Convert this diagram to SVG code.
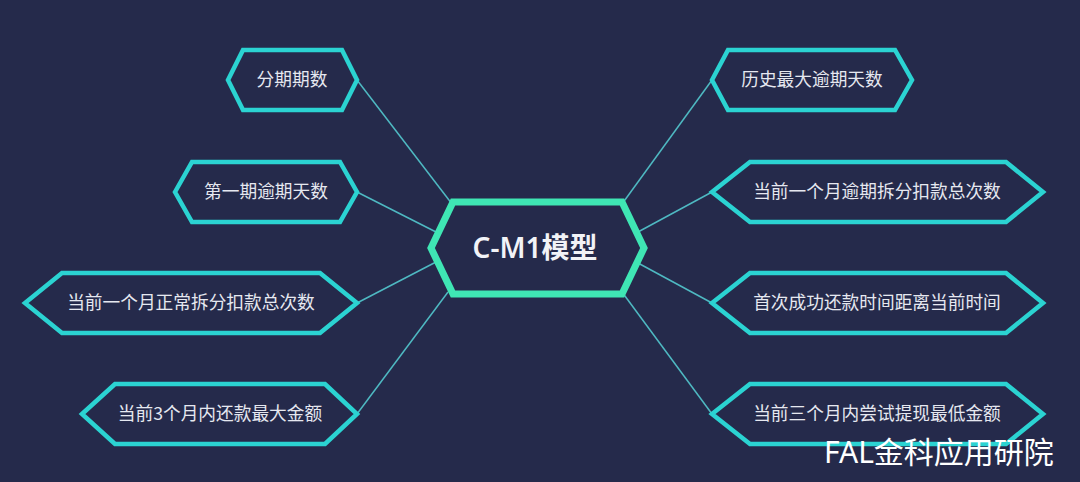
<svg xmlns="http://www.w3.org/2000/svg" width="1080" height="482" viewBox="0 0 1080 482">
<style>
.bg{fill:#252a4b}
.node polygon{fill:#252a4b;stroke:#2bd3d2;stroke-width:4.5;stroke-linejoin:miter}
.center polygon{fill:#252a4b;stroke:#3fe6b4;stroke-width:7;stroke-linejoin:miter}
.lbl{font-family:"Noto Sans CJK SC","Noto Sans",sans-serif;font-size:17.7px;fill:#e6e8f0;text-anchor:middle}
.title{font-family:"Noto Sans","Noto Sans CJK SC",sans-serif;font-size:28px;font-weight:600;fill:#f2f3f7;text-anchor:middle}
.conn line{stroke:#53c9cf;stroke-width:1.5;stroke-opacity:0.9}
.wm{font-family:"Noto Sans","Noto Sans CJK SC",sans-serif;font-size:30px;fill:#ffffff}
</style>
<rect class="bg" x="0" y="0" width="1080" height="482"/>
<g id="connectors" class="conn">
<line x1="357" y1="80" x2="452" y2="204"/>
<line x1="357" y1="192" x2="436" y2="232"/>
<line x1="357" y1="303" x2="436" y2="262"/>
<line x1="357" y1="414" x2="448" y2="292"/>
<line x1="712" y1="80" x2="622" y2="204"/>
<line x1="712" y1="192" x2="638" y2="232"/>
<line x1="712" y1="303" x2="638" y2="263"/>
<line x1="712" y1="414" x2="622" y2="292"/>
</g>
<g id="n1" class="node">
<polygon points="228,80 243,50 342,50 357,80 342,110 243,110"/>
<text class="lbl" x="292" y="86">分期期数</text>
</g>
<g id="n2" class="node">
<polygon points="175,192 192,162 340,162 357,192 340,222 192,222"/>
<text class="lbl" x="266" y="198">第一期逾期天数</text>
</g>
<g id="n3" class="node">
<polygon points="25,303 62,273 320,273 357,303 320,333 62,333"/>
<text class="lbl" x="191" y="309">当前一个月正常拆分扣款总次数</text>
</g>
<g id="n4" class="node">
<polygon points="82,414 115,384 325,384 357,414 325,444 115,444"/>
<text class="lbl" x="220" y="420">当前3个月内还款最大金额</text>
</g>
<g id="n5" class="node">
<polygon points="712,80 728,50 895,50 912,80 895,110 728,110"/>
<text class="lbl" x="812" y="86">历史最大逾期天数</text>
</g>
<g id="n6" class="node">
<polygon points="712,192 750,162 1006,162 1043,192 1006,222 750,222"/>
<text class="lbl" x="877" y="198">当前一个月逾期拆分扣款总次数</text>
</g>
<g id="n7" class="node">
<polygon points="712,303 750,273 1006,273 1043,303 1006,333 750,333"/>
<text class="lbl" x="877" y="309">首次成功还款时间距离当前时间</text>
</g>
<g id="n8" class="node">
<polygon points="712,414 750,384 1006,384 1043,414 1006,444 750,444"/>
<text class="lbl" x="877" y="420">当前三个月内尝试提现最低金额</text>
</g>
<g id="center" class="center">
<polygon points="431,248 453,202 622,202 644,248 622,294 453,294"/>
<text class="title" x="535" y="258">C-M1模型</text>
</g>
<text class="wm" x="824" y="463">FAL金科应用研院</text>
</svg>
